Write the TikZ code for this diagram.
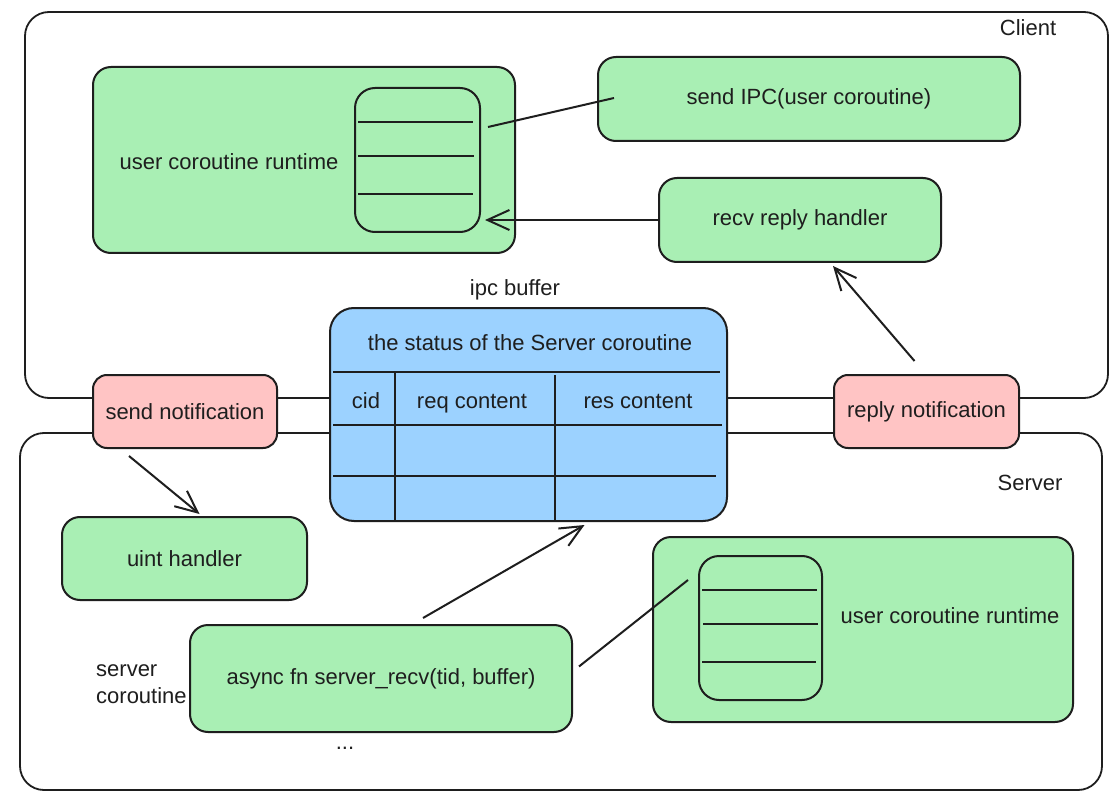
\documentclass[tikz,border=0pt]{standalone}
\usepackage{fontspec}
\setmainfont{Liberation Sans}
\usetikzlibrary{arrows.meta,calc}

\definecolor{ink}{HTML}{1E1E1E}
\definecolor{boxgreen}{HTML}{A9EFB4}
\definecolor{boxpink}{HTML}{FFC4C4}
\definecolor{boxblue}{HTML}{9CD2FF}

\begin{document}
\begin{tikzpicture}[x=1pt,y=-1pt,
  outline/.style={draw=ink, line width=2pt},
  panel/.style={draw=ink, line width=1.8pt, fill=white, rounded corners=24pt, inner sep=0pt},
  greenbox/.style={outline, fill=boxgreen, rounded corners=18pt, inner sep=0pt},
  stackbox/.style={outline, fill=boxgreen, rounded corners=20pt, inner sep=0pt},
  pinkbox/.style={outline, fill=boxpink, rounded corners=14pt, inner sep=0pt},
  bluebox/.style={outline, fill=boxblue, rounded corners=24pt, inner sep=0pt},
  txt/.style={font=\fontsize{22}{27}\selectfont, text=ink, inner sep=0pt},
  rule/.style={draw=ink, line width=2.8pt},
  link/.style={draw=ink, line width=2pt},
  arr/.style={link, -{Straight Barb[length=22pt,width=20pt,line width=2pt]}}
]
\useasboundingbox (0,0) rectangle (1117,805);

% outer regions
\node[panel, minimum width=1083pt, minimum height=386pt] (client) at (566.5,205) {};
\node[panel, minimum width=1082pt, minimum height=357pt] (server) at (561,611.5) {};
\node[txt, anchor=center] (clientlbl) at (1028,28) {Client};
\node[txt, anchor=center] (serverlbl) at (1030,483) {Server};

% client side
\node[greenbox, minimum width=422pt, minimum height=186pt] (ucrA) at (304,160) {};
\node[txt] (ucrAlbl) at (229,162) {user coroutine runtime};
\node[stackbox, minimum width=125pt, minimum height=144pt] (stackA) at (417.5,160) {};
\draw[rule] (358,122) -- (473,122);
\draw[rule] (358,156) -- (474,156);
\draw[rule] (358,194) -- (473,194);

\node[greenbox, minimum width=422pt, minimum height=84pt, txt] (sendipc) at (809,99) {send IPC(user coroutine)};
\node[greenbox, minimum width=282pt, minimum height=84pt, txt] (recv) at (800,220) {recv reply handler};

% ipc buffer
\node[txt] (ipclbl) at (515,290) {ipc buffer};
\node[bluebox, minimum width=397pt, minimum height=213pt] (buf) at (528.5,414.5) {};
\node[txt] (buftitle) at (530,343) {the status of the Server coroutine};
\draw[rule] (333,372) -- (720,372);
\draw[rule] (333,425) -- (722,425);
\draw[rule] (333,476) -- (716,476);
\draw[rule] (395,372) -- (395,520);
\draw[rule] (555,375) -- (555,520);
\node[txt, anchor=base] (hcid) at (366,408) {cid};
\node[txt, anchor=base] (hreq) at (472,408) {req content};
\node[txt, anchor=base] (hres) at (638,408) {res content};

% notifications
\node[pinkbox, minimum width=184pt, minimum height=73pt, txt] (sendnotif) at (185,411.5) {send notification};
\node[pinkbox, minimum width=185pt, minimum height=73pt, txt] (replynotif) at (926.5,411.5) {reply notification};

% server side
\node[greenbox, minimum width=245pt, minimum height=83pt, txt] (uint) at (184.5,558.5) {uint handler};
\node[greenbox, minimum width=382pt, minimum height=107pt, txt] (async) at (381,678.5) {async fn server\_recv(tid, buffer)};
\node[txt, align=left, anchor=west] (corolbl) at (96,684) {server\\coroutine};
\node[txt] (dots) at (345,748) {...};

\node[greenbox, minimum width=420pt, minimum height=185pt] (ucrB) at (863,629.5) {};
\node[txt] (ucrBlbl) at (950,616) {user coroutine runtime};
\node[stackbox, minimum width=123pt, minimum height=144pt] (stackB) at (760.5,628) {};
\draw[rule] (702,590) -- (817,590);
\draw[rule] (703,624) -- (818,624);
\draw[rule] (702,662) -- (816,662);

% connectors
\draw[link] ($(stackA.east)+(7,-33)$) -- ($(sendipc.west)+(17,-1)$);
\draw[arr] (recv.west) -- ($(stackA.east)+(4,60)$);
\draw[arr] ($(replynotif.north)+(-12,-13)$) -- ($(recv.south)+(33,3)$);
\draw[arr] ($(sendnotif.south)+(-56,7)$) -- ($(uint.north)+(15,-2)$);
\draw[arr] ($(async.north)+(42,-6)$) -- ($(buf.south)+(56,3)$);
\draw[link] ($(async.east)+(6,-12)$) -- ($(stackB.west)+(-10,-48)$);
\end{tikzpicture}
\end{document}
